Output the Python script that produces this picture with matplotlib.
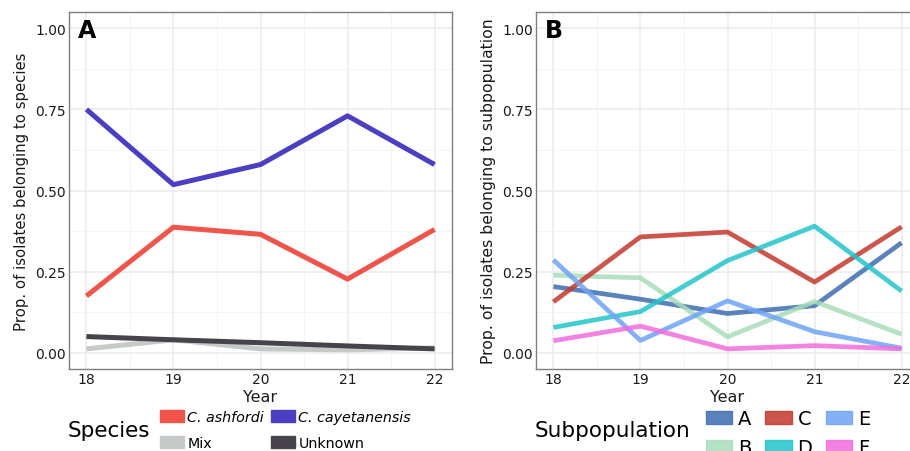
import matplotlib.pyplot as plt
from matplotlib.patches import Patch

years = [18, 19, 20, 21, 22]

# panel A - species
species = ["C. ashfordi", "C. cayetanensis", "Mix", "Unknown"]
species_colors = ["#F0544B", "#4A3FC2", "#C5CAC8", "#46434A"]
ashfordi = [0.175, 0.387, 0.365, 0.227, 0.380]
cayetanensis = [0.750, 0.518, 0.580, 0.730, 0.580]
mix = [0.012, 0.040, 0.012, 0.009, 0.015]
unknown = [0.050, 0.040, 0.031, 0.021, 0.012]
species_values = [ashfordi, cayetanensis, mix, unknown]

# panel B - subpopulations
subpops = ["A", "B", "C", "D", "E", "F"]
subpop_colors = ["#3E6DB0", "#A8DDBB", "#C4372C", "#22C5CA", "#6FA3F5", "#F36CDE"]
sub_a = [0.204, 0.165, 0.121, 0.145, 0.339]
sub_b = [0.239, 0.231, 0.049, 0.158, 0.057]
sub_c = [0.157, 0.357, 0.372, 0.218, 0.388]
sub_d = [0.078, 0.127, 0.284, 0.390, 0.190]
sub_e = [0.286, 0.038, 0.160, 0.065, 0.014]
sub_f = [0.037, 0.082, 0.012, 0.022, 0.012]
subpop_values = [sub_a, sub_b, sub_c, sub_d, sub_e, sub_f]

yticks = [0.0, 0.25, 0.5, 0.75, 1.0]
ytick_labels = ["0.00", "0.25", "0.50", "0.75", "1.00"]

W, H = 910, 452
fig = plt.figure(figsize=(W / 100, H / 100), dpi=100)


def style_axes(ax, label, ylabel, ylabel_size):
    ax.set_xlim(17.8, 22.2)
    ax.set_ylim(-0.05, 1.05)
    ax.set_xticks(years)
    ax.set_xticks([18.5, 19.5, 20.5, 21.5], minor=True)
    ax.set_yticks(yticks)
    ax.set_yticklabels(ytick_labels)
    ax.set_yticks([0.125, 0.375, 0.625, 0.875], minor=True)
    ax.grid(which="major", color="#EBEBEB", lw=1.1)
    ax.grid(which="minor", color="#F3F3F3", lw=0.6)
    ax.set_axisbelow(True)
    for s in ax.spines.values():
        s.set_color("#7F7F7F")
        s.set_linewidth(1.0)
    ax.tick_params(which="both", length=0, labelsize=10, labelcolor="#1a1a1a", pad=2)
    ax.set_xlabel("Year", fontsize=11.5, labelpad=2.5, color="#1a1a1a")
    ax.set_ylabel(ylabel, fontsize=ylabel_size, labelpad=5, color="#1a1a1a")
    ax.text(0.022, 0.982, label, transform=ax.transAxes, ha="left", va="top",
            fontsize=17, fontweight="bold")


# panel A
axA = fig.add_axes([69 / W, 1 - 370 / H, 383 / W, 357 / H])
for vals, col in zip(species_values, species_colors):
    axA.plot(years, vals, color=col, lw=3.6, solid_capstyle="butt")
style_axes(axA, "A", "Prop. of isolates belonging to species", 10.7)

# panel B (runs past the right edge like the original)
axB = fig.add_axes([536 / W, 1 - 370 / H, 383 / W, 357 / H])
for vals, col in zip(subpop_values, subpop_colors):
    axB.plot(years, vals, color=col, lw=3.4, alpha=0.85, solid_capstyle="butt")
style_axes(axB, "B", "Prop. of isolates belonging to subpopulation", 11.3)

# legend A
fig.text(68 / W, 1 - 431 / H, "Species", fontsize=15.5, va="center", ha="left")
order = [0, 2, 1, 3]
hA = [Patch(facecolor=species_colors[i], edgecolor=species_colors[i]) for i in order]
lA = [species[i] for i in order]
legA = fig.legend(hA, lA, loc="upper left", bbox_to_anchor=(160 / W, 1 - 411 / H),
                  ncol=2, frameon=False, fontsize=10.3, borderpad=0, borderaxespad=0,
                  handlelength=1.7, handleheight=0.9, handletextpad=0.2,
                  columnspacing=0.5, labelspacing=0.85)
legA.get_texts()[0].set_style("italic")
legA.get_texts()[2].set_style("italic")

# legend B
fig.text(535 / W, 1 - 431 / H, "Subpopulation", fontsize=15.5, va="center", ha="left")
hB = [Patch(facecolor=c, edgecolor=c, alpha=0.85) for c in subpop_colors]
fig.legend(hB, subpops, loc="upper left", bbox_to_anchor=(706 / W, 1 - 410 / H),
           ncol=3, frameon=False, fontsize=14, borderpad=0, borderaxespad=0,
           handlelength=1.36, handleheight=0.68, handletextpad=0.3,
           columnspacing=0.7, labelspacing=0.52)

fig.savefig("out.png", dpi=100)
